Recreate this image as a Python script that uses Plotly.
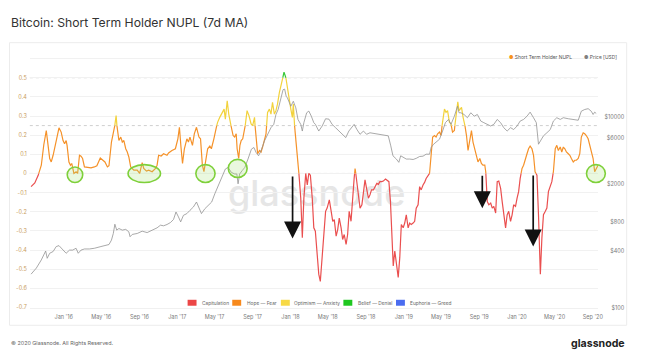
import pandas as pd
import plotly.graph_objects as go

# ---------------- data ----------------
nupl_dates = [
 "2015-09-18","2015-09-30","2015-10-11","2015-10-21","2015-10-29","2015-11-06","2015-11-17","2015-11-22","2015-11-28","2015-12-03",
 "2015-12-08","2015-12-17","2015-12-24","2015-12-30","2016-01-04","2016-01-09","2016-01-12","2016-01-18","2016-01-23","2016-01-27",
 "2016-02-03","2016-02-10","2016-02-15","2016-02-21","2016-02-26","2016-03-02","2016-03-08","2016-03-18","2016-03-29","2016-04-09",
 "2016-04-17","2016-04-28","2016-05-05","2016-05-13","2016-05-21","2016-05-26","2016-06-03","2016-06-09","2016-06-13","2016-06-18",
 "2016-06-22","2016-06-27","2016-07-03","2016-07-08","2016-07-13","2016-07-19","2016-07-24","2016-07-29","2016-08-04","2016-08-14",
 "2016-08-25","2016-09-02","2016-09-10","2016-09-15","2016-09-24","2016-10-01","2016-10-12","2016-10-23","2016-10-28","2016-11-02",
 "2016-11-10","2016-11-18","2016-11-29","2016-12-04","2016-12-15","2016-12-26","2017-01-03","2017-01-08","2017-01-13","2017-01-18",
 "2017-01-24","2017-02-01","2017-02-06","2017-02-11","2017-02-19","2017-02-25","2017-03-04","2017-03-12","2017-03-17","2017-03-23",
 "2017-03-28","2017-04-02","2017-04-09","2017-04-16","2017-04-21","2017-04-29","2017-05-04","2017-05-11","2017-05-18","2017-05-26",
 "2017-06-01","2017-06-05","2017-06-11","2017-06-16","2017-06-22","2017-06-30","2017-07-05","2017-07-10","2017-07-13","2017-07-18",
 "2017-07-22","2017-07-26","2017-07-31","2017-08-08","2017-08-14","2017-08-20","2017-08-27","2017-09-01","2017-09-07","2017-09-12",
 "2017-09-17","2017-09-23","2017-09-28","2017-10-03","2017-10-09","2017-10-14","2017-10-19","2017-10-25","2017-10-30","2017-11-04",
 "2017-11-10","2017-11-15","2017-11-20","2017-11-26","2017-12-01","2017-12-06","2017-12-11","2017-12-17","2017-12-22","2017-12-27",
 "2018-01-02","2018-01-07","2018-01-10","2018-01-14","2018-01-20","2018-01-25","2018-01-28","2018-02-03","2018-02-08","2018-02-13",
 "2018-02-19","2018-02-24","2018-03-01","2018-03-06","2018-03-12","2018-03-17","2018-03-22","2018-03-28","2018-04-02","2018-04-07",
 "2018-04-13","2018-04-18","2018-04-24","2018-04-29","2018-05-06","2018-05-12","2018-05-17","2018-05-22","2018-05-28","2018-06-02",
 "2018-06-07","2018-06-13","2018-06-18","2018-06-23","2018-06-29","2018-07-04","2018-07-09","2018-07-15","2018-07-20","2018-07-25",
 "2018-07-28","2018-08-03","2018-08-08","2018-08-13","2018-08-19","2018-08-24","2018-08-29","2018-09-03","2018-09-09","2018-09-14",
 "2018-09-19","2018-09-25","2018-09-30","2018-10-06","2018-10-11","2018-10-16","2018-10-22","2018-10-27","2018-11-03","2018-11-10",
 "2018-11-14","2018-11-19","2018-11-25","2018-11-28","2018-12-03","2018-12-08","2018-12-14","2018-12-19","2018-12-24","2018-12-30",
 "2019-01-04","2019-01-09","2019-01-15","2019-01-20","2019-01-25","2019-01-31","2019-02-05","2019-02-10","2019-02-16","2019-02-21",
 "2019-02-26","2019-03-04","2019-03-09","2019-03-14","2019-03-19","2019-03-25","2019-03-30","2019-04-04","2019-04-10","2019-04-15",
 "2019-04-20","2019-04-26","2019-05-01","2019-05-06","2019-05-12","2019-05-17","2019-05-22","2019-05-28","2019-06-02","2019-06-07",
 "2019-06-13","2019-06-18","2019-06-24","2019-06-28","2019-07-01","2019-07-06","2019-07-11","2019-07-17","2019-07-22","2019-07-27",
 "2019-08-02","2019-08-07","2019-08-12","2019-08-18","2019-08-23","2019-08-28","2019-09-03","2019-09-08","2019-09-13","2019-09-19",
 "2019-09-22","2019-09-25","2019-09-27","2019-10-02","2019-10-08","2019-10-13","2019-10-18","2019-10-24","2019-10-29","2019-11-03",
 "2019-11-09","2019-11-14","2019-11-19","2019-11-25","2019-11-30","2019-12-05","2019-12-11","2019-12-16","2019-12-21","2019-12-27",
 "2020-01-01","2020-01-06","2020-01-11","2020-01-17","2020-01-22","2020-01-27","2020-02-02","2020-02-07","2020-02-12","2020-02-18",
 "2020-02-23","2020-02-28","2020-03-05","2020-03-10","2020-03-16","2020-03-21","2020-03-26","2020-04-01","2020-04-06","2020-04-11",
 "2020-04-17","2020-04-22","2020-04-27","2020-05-03","2020-05-08","2020-05-13","2020-05-19","2020-05-24","2020-05-29","2020-06-03",
 "2020-06-08","2020-06-14","2020-06-19","2020-06-24","2020-06-30","2020-07-05","2020-07-10","2020-07-16","2020-07-21","2020-07-26",
 "2020-08-01","2020-08-06","2020-08-11","2020-08-17","2020-08-22","2020-08-27","2020-09-02","2020-09-07","2020-09-12","2020-09-18",
]
nupl_values = [
 -0.069,-0.05,-0.01,0.043,0.15,0.224,0.078,0.06,0.095,0.138,
 0.181,0.238,0.216,0.172,0.155,0.172,0.147,0.06,0.043,0.052,
 0.0,0.009,0.0,0.095,0.09,0.078,0.034,0.031,0.029,0.034,
 0.04,0.081,0.069,0.06,0.034,0.04,0.164,0.207,0.241,0.302,
 0.224,0.172,0.19,0.164,0.172,0.129,0.112,0.086,0.034,0.017,
 0.017,0.0,0.057,0.026,0.012,0.017,0.009,0.026,0.043,0.095,
 0.091,0.103,0.095,0.107,0.12,0.129,0.181,0.241,0.138,0.052,
 0.129,0.181,0.164,0.19,0.147,0.207,0.241,0.19,0.181,0.043,
 0.009,0.069,0.129,0.143,0.129,0.181,0.224,0.267,0.293,0.319,
 0.336,0.284,0.379,0.31,0.259,0.198,0.19,0.207,0.129,0.078,
 0.147,0.172,0.181,0.25,0.328,0.302,0.259,0.25,0.293,0.172,
 0.103,0.12,0.112,0.138,0.172,0.207,0.319,0.336,0.31,0.371,
 0.31,0.328,0.362,0.422,0.457,0.491,0.529,0.5,0.448,0.379,
 0.336,0.293,0.362,0.25,0.129,0.026,0.0,-0.129,-0.336,-0.129,
 0.0,-0.06,0.0,-0.009,-0.129,-0.284,-0.302,-0.44,-0.526,-0.564,
 -0.44,-0.302,-0.198,-0.181,-0.138,-0.198,-0.25,-0.241,-0.328,-0.293,
 -0.233,-0.284,-0.345,-0.319,-0.371,-0.319,-0.198,-0.25,-0.112,-0.026,
 0.026,-0.043,-0.112,-0.181,-0.164,-0.095,-0.034,-0.078,-0.129,-0.112,
 -0.086,-0.086,-0.069,-0.052,-0.057,-0.043,-0.043,-0.04,-0.029,-0.04,
 -0.043,-0.147,-0.371,-0.483,-0.405,-0.457,-0.543,-0.44,-0.267,-0.284,
 -0.259,-0.216,-0.284,-0.259,-0.267,-0.259,-0.25,-0.181,-0.164,-0.069,
 -0.086,-0.06,-0.047,-0.026,-0.012,0.0,0.078,0.19,0.198,0.19,
 0.207,0.216,0.198,0.276,0.336,0.319,0.328,0.267,0.259,0.216,
 0.224,0.31,0.374,0.328,0.336,0.345,0.293,0.25,0.198,0.12,
 0.172,0.224,0.164,0.129,0.103,0.06,0.078,0.052,0.043,0.043,
 0.009,-0.06,-0.147,-0.164,-0.155,-0.181,-0.172,-0.207,-0.043,-0.04,
 -0.078,-0.147,-0.216,-0.284,-0.216,-0.198,-0.25,-0.216,-0.164,-0.172,
 -0.129,-0.095,-0.026,0.026,0.043,0.078,0.103,0.129,0.143,0.129,
 0.095,0.009,-0.009,-0.216,-0.526,-0.336,-0.216,-0.198,-0.181,-0.095,
 -0.069,-0.043,0.009,0.129,0.147,0.12,0.138,0.112,0.138,0.129,
 0.112,0.103,0.095,0.078,0.06,0.069,0.069,0.078,0.103,0.19,
 0.212,0.207,0.198,0.181,0.147,0.12,0.078,0.009,0.026,0.043,
]

price_dates = [
 "2015-09-18","2015-10-05","2015-10-21","2015-10-30","2015-11-04","2015-11-09","2015-11-17","2015-11-28","2015-12-08","2015-12-17",
 "2015-12-24","2016-01-02","2016-01-09","2016-01-20","2016-01-30","2016-02-10","2016-02-17","2016-02-26","2016-03-08","2016-03-24",
 "2016-04-09","2016-04-30","2016-05-16","2016-05-26","2016-06-03","2016-06-09","2016-06-14","2016-06-20","2016-06-27","2016-07-08",
 "2016-07-19","2016-07-29","2016-08-02","2016-08-09","2016-08-25","2016-09-10","2016-09-26","2016-10-12","2016-10-28","2016-11-08",
 "2016-11-18","2016-11-29","2016-12-10","2016-12-20","2016-12-28","2017-01-05","2017-01-12","2017-01-21","2017-02-01","2017-02-11",
 "2017-02-22","2017-03-04","2017-03-12","2017-03-20","2017-03-31","2017-04-11","2017-04-22","2017-05-02","2017-05-11","2017-05-18",
 "2017-05-29","2017-06-05","2017-06-14","2017-06-24","2017-07-05","2017-07-12","2017-07-16","2017-07-21","2017-07-29","2017-08-07",
 "2017-08-17","2017-08-28","2017-09-05","2017-09-12","2017-09-20","2017-09-28","2017-10-09","2017-10-19","2017-10-30","2017-11-08",
 "2017-11-15","2017-11-22","2017-12-01","2017-12-08","2017-12-13","2017-12-18","2017-12-22","2018-01-02","2018-01-10","2018-01-18",
 "2018-01-25","2018-02-03","2018-02-08","2018-02-13","2018-02-22","2018-03-01","2018-03-09","2018-03-17","2018-03-22","2018-04-02",
 "2018-04-13","2018-04-24","2018-05-05","2018-05-15","2018-05-26","2018-06-06","2018-06-17","2018-06-28","2018-07-08","2018-07-20",
 "2018-07-25","2018-08-03","2018-08-13","2018-08-24","2018-09-03","2018-09-14","2018-09-30","2018-10-16","2018-11-01","2018-11-12",
 "2018-11-20","2018-11-27","2018-12-08","2018-12-16","2018-12-22","2018-12-30","2019-01-09","2019-01-20","2019-01-31","2019-02-10",
 "2019-02-21","2019-03-04","2019-03-14","2019-03-25","2019-03-30","2019-04-07","2019-04-15","2019-04-26","2019-05-06","2019-05-15",
 "2019-05-25","2019-06-02","2019-06-13","2019-06-23","2019-06-28","2019-07-04","2019-07-14","2019-07-25","2019-08-05","2019-08-16",
 "2019-08-26","2019-09-06","2019-09-16","2019-09-27","2019-10-08","2019-10-18","2019-10-29","2019-11-09","2019-11-19","2019-11-30",
 "2019-12-11","2019-12-21","2020-01-01","2020-01-11","2020-01-22","2020-02-02","2020-02-12","2020-02-23","2020-03-03","2020-03-10",
 "2020-03-18","2020-03-26","2020-04-06","2020-04-17","2020-04-27","2020-05-08","2020-05-19","2020-05-29","2020-06-14","2020-06-30",
 "2020-07-16","2020-07-26","2020-08-06","2020-08-17","2020-08-27","2020-09-02","2020-09-07","2020-09-12",
]
price_values = [
 228,264,321,362,398,334,377,393,443,453,
 425,398,377,407,407,425,377,407,418,418,
 425,443,459,465,517,607,758,658,684,658,
 670,631,561,593,607,641,620,658,695,741,
 730,753,789,850,1018,903,802,940,979,1059,
 1148,1294,1148,979,1101,1194,1294,1577,1850,2166,
 2541,2863,2980,2646,2541,2541,2005,2541,2752,2980,
 3639,4616,4808,4266,3937,4436,5623,6600,7745,8380,
 10640,11990,15210,19320,19600,16500,15850,12970,14620,12480,
 9440,8380,7140,8730,11080,11540,10210,8730,8400,7140,
 8060,9600,9500,8380,7745,7140,6600,6100,7140,8060,
 8380,7400,6600,7140,6600,6850,6730,6600,6470,6360,
 5000,3937,3639,3361,3937,3784,3639,3639,3600,3700,
 3870,3900,4090,4090,4808,5200,5420,5860,7140,8730,
 9440,8380,10210,12970,11080,11080,10640,9840,11080,10210,
 10640,9080,8730,8380,8060,8380,9440,8730,7745,7140,
 7745,7400,8060,9080,9440,10210,11250,9840,8730,5200,
 5860,6360,6850,7400,9080,9840,9440,9840,9600,9440,
 9260,11510,11990,12230,11510,10640,11250,10900,
]

zone_names = ["Capitulation", "Hope — Fear", "Optimism — Anxiety", "Belief — Denial", "Euphoria — Greed"]
zone_line_colors = ["#ea4f4f", "#f5922a", "#f2d23c", "#36c836", "#4c6ef5"]
zone_legend_colors = ["#ec4646", "#f7891c", "#f7d945", "#1fc71f", "#4a6cf0"]
zone_thresholds = [0.0, 0.25, 0.5, 0.75]

x_tick_vals = ["2016-01-01","2016-05-01","2016-09-01","2017-01-01","2017-05-01","2017-09-01","2018-01-01",
               "2018-05-01","2018-09-01","2019-01-01","2019-05-01","2019-09-01","2020-01-01","2020-05-01","2020-09-01"]
x_tick_text = ["Jan '16","May '16","Sep '16","Jan '17","May '17","Sep '17","Jan '18",
               "May '18","Sep '18","Jan '19","May '19","Sep '19","Jan '20","May '20","Sep '20"]
y_tick_vals = [0.6, 0.5, 0.4, 0.3, 0.2, 0.1, 0.0, -0.1, -0.2, -0.3, -0.4, -0.5, -0.6, -0.7]
y_tick_text = ["", "0.5", "0.4", "0.3", "0.2", "0.1", "0", "-0.1", "-0.2", "-0.3", "-0.4", "-0.5", "-0.6", "-0.7"]
price_tick_vals = [100, 400, 800, 2000, 6000, 10000]
price_tick_text = ["$100", "$400", "$800", "$2000", "$6000", "$10000"]

# ---------------- helpers ----------------
# the page body has an 8px margin, so the figure sits at (8, 8)
OFF = 8
W, H = 653 - OFF, 358 - OFF
def px(x):
    return (x - OFF) / W
def py(y):
    return 1 - (y - OFF) / H

def zone_of(v):
    for i, th in enumerate(zone_thresholds):
        if v < th:
            return i
    return len(zone_thresholds)

# split the NUPL line into coloured runs at the zone thresholds
t_ns = pd.to_datetime(nupl_dates).astype("int64").tolist()
runs = {i: ([], []) for i in range(len(zone_names))}
last_end = {i: None for i in range(len(zone_names))}
for i in range(len(nupl_values) - 1):
    x0, x1 = t_ns[i], t_ns[i + 1]
    y0, y1 = nupl_values[i], nupl_values[i + 1]
    pts = [(x0, y0)]
    lo, hi = min(y0, y1), max(y0, y1)
    cross = [th for th in zone_thresholds if lo < th < hi]
    if y1 < y0:
        cross = cross[::-1]
    for th in cross:
        f = (th - y0) / (y1 - y0)
        pts.append((x0 + f * (x1 - x0), th))
    pts.append((x1, y1))
    for (a, ya), (b, yb) in zip(pts[:-1], pts[1:]):
        z = zone_of((ya + yb) / 2)
        xs, ys = runs[z]
        if last_end[z] != (a, ya):
            if xs:
                xs.append(None); ys.append(None)
            xs.append(pd.Timestamp(int(a))); ys.append(ya)
        xs.append(pd.Timestamp(int(b))); ys.append(yb)
        last_end[z] = (b, yb)

fig = go.Figure()

for z in range(len(zone_names)):
    xs, ys = runs[z]
    if not xs:
        continue
    fig.add_trace(go.Scatter(x=xs, y=ys, mode="lines", name=zone_names[z],
                             line=dict(color=zone_line_colors[z], width=1.2),
                             connectgaps=False, hoverinfo="skip", showlegend=False))

fig.add_trace(go.Scatter(x=pd.to_datetime(price_dates), y=price_values, mode="lines",
                         name="Price [USD]", yaxis="y2",
                         line=dict(color="#939393", width=0.8), showlegend=False))

FONT = "Inter, Roboto, 'DejaVu Sans', sans-serif"

fig.update_layout(
    width=W, height=H, margin=dict(l=0, r=0, t=0, b=0),
    paper_bgcolor="white", plot_bgcolor="white",
    font=dict(family=FONT, size=5.5, color="#777"),
    showlegend=False,
    xaxis=dict(type="date", domain=[px(30), px(603)],
               range=["2015-09-14", "2020-09-19"],
               tickvals=x_tick_vals, ticktext=x_tick_text,
               tickfont=dict(size=5.5, color="#7a7a7a"),
               showgrid=False, zeroline=False, showline=True, linecolor="#f0f0f0",
               ticks="", ticklabelstandoff=3),
    yaxis=dict(domain=[py(311), py(51.3)], range=[-0.705, 0.64],
               tickvals=y_tick_vals, ticktext=y_tick_text,
               tickfont=dict(size=5.5, color="#c99c5c"),
               showgrid=True, gridcolor="#f1f1f1", gridwidth=1,
               zeroline=False, ticks="", ticklabelstandoff=2),
    yaxis2=dict(overlaying="y", anchor="free", side="left", position=px(629),
                type="log", range=[2.0, 4.691],
                tickvals=price_tick_vals, ticktext=price_tick_text,
                tickfont=dict(size=5.5, color="#7a7a7a"),
                showgrid=False, zeroline=False, showline=False, ticks=""),
)

shapes = []
# chart panel border
shapes.append(dict(type="rect", xref="paper", yref="paper", x0=px(9.5), x1=px(631.5),
                   y0=py(328), y1=py(43), line=dict(color="#ececec", width=1),
                   fillcolor="rgba(0,0,0,0)", layer="below"))
# watermark
shapes.append(dict(type="rect", xref="paper", yref="paper", x0=px(230), x1=px(408),
                   y0=py(214), y1=py(174), line=dict(width=0), fillcolor="rgba(0,0,0,0)",
                   layer="below",
                   label=dict(text="glassnode", font=dict(family=FONT, size=36, color="#e6e6e6", weight=500),
                              textposition="middle center")))
# zone threshold lines (dashed)
for th in [0.0, 0.25, 0.5]:
    shapes.append(dict(type="line", xref="x domain", yref="y", x0=0, x1=1, y0=th, y1=th,
                       line=dict(color="#c4c4c4", width=0.8, dash="dot"), layer="below"))
# green highlight ellipses (pixel boxes)
ellipses = [(67.7, 83.3, 168.3, 184), (129, 161.7, 166, 184), (197.3, 216.7, 166, 184),
            (230, 249, 160.7, 179), (591, 610, 166, 184)]
for x0, x1, y0, y1 in ellipses:
    shapes.append(dict(type="circle", xref="paper", yref="paper",
                       x0=px(x0), x1=px(x1), y0=py(y1), y1=py(y0),
                       line=dict(color="#7ed03a", width=1.6),
                       fillcolor="rgba(160,225,110,0.22)"))
# bottom zone legend swatches
legend_swatch_x = [189, 234, 283, 346, 399]
legend_text_x = [201.5, 246.5, 294.5, 358.5, 411]
for sx, col in zip(legend_swatch_x, zone_legend_colors):
    shapes.append(dict(type="rect", xref="paper", yref="paper", x0=px(sx), x1=px(sx + 9),
                       y0=py(308.3), y1=py(302.3), line=dict(width=0), fillcolor=col))
fig.update_layout(shapes=shapes)

ann = []
ann.append(dict(text="Bitcoin: Short Term Holder NUPL (7d MA)", xref="paper", yref="paper",
                x=px(9.5), y=py(22.5), xanchor="left", yanchor="middle", showarrow=False,
                font=dict(family=FONT, size=12.2, color="#333")))
ann.append(dict(text="<span style='color:#f7931a'>●</span> Short Term Holder NUPL", xref="paper", yref="paper",
                x=px(511), y=py(57), xanchor="left", yanchor="middle", showarrow=False,
                font=dict(family=FONT, size=4.9, color="#555")))
ann.append(dict(text="<span style='color:#808080'>●</span> Price [USD]", xref="paper", yref="paper",
                x=px(586), y=py(57), xanchor="left", yanchor="middle", showarrow=False,
                font=dict(family=FONT, size=4.9, color="#555")))
for tx, name in zip(legend_text_x, zone_names):
    ann.append(dict(text=name, xref="paper", yref="paper", x=px(tx), y=py(305.3),
                    xanchor="left", yanchor="middle", showarrow=False,
                    font=dict(family=FONT, size=4.8, color="#666")))
ann.append(dict(text="© 2020 Glassnode. All Rights Reserved.", xref="paper", yref="paper",
                x=px(9.5), y=py(346), xanchor="left", yanchor="middle", showarrow=False,
                font=dict(family=FONT, size=5.4, color="#666")))
ann.append(dict(text="<b>glassnode</b>", xref="paper", yref="paper",
                x=px(632), y=py(346.5), xanchor="right", yanchor="middle", showarrow=False,
                font=dict(family=FONT, size=10.6, color="#222")))
# black arrows (pixel positions: x, tail y, tip y)
arrows = [(294.8, 177, 240.5), (486, 176, 210), (537.3, 176, 248.5)]
for ax_, ty, hy in arrows:
    ann.append(dict(text="", xref="paper", yref="paper", x=px(ax_), y=py(hy),
                    ax=0, ay=ty - hy, showarrow=True, arrowhead=2, arrowsize=2.0,
                    arrowwidth=1.7, arrowcolor="#111", standoff=0))
fig.update_layout(annotations=ann)

fig.write_html("out.html")
